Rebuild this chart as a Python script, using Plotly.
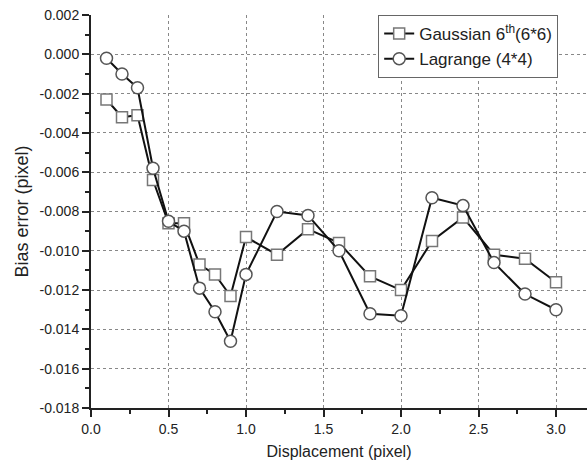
import plotly.graph_objects as go

x_vals = [0.1, 0.2, 0.3, 0.4, 0.5, 0.6, 0.7, 0.8, 0.9, 1.0,
          1.2, 1.4, 1.6, 1.8, 2.0, 2.2, 2.4, 2.6, 2.8, 3.0]
gaussian = [-0.0023, -0.0032, -0.0031, -0.0064, -0.0086, -0.0086, -0.0107, -0.0112, -0.0123, -0.0093,
            -0.0102, -0.0089, -0.0096, -0.0113, -0.0120, -0.0095, -0.0083, -0.0102, -0.0104, -0.0116]
lagrange = [-0.0002, -0.0010, -0.0017, -0.0058, -0.0085, -0.0090, -0.0119, -0.0131, -0.0146, -0.0112,
            -0.0080, -0.0082, -0.0100, -0.0132, -0.0133, -0.0073, -0.0077, -0.0106, -0.0122, -0.0130]
y_ticks = [0.002, 0.0, -0.002, -0.004, -0.006, -0.008, -0.010, -0.012, -0.014, -0.016, -0.018]
y_labels = ["0.002", "0.000", "-0.002", "-0.004", "-0.006", "-0.008", "-0.010",
            "-0.012", "-0.014", "-0.016", "-0.018"]
x_ticks = [0.0, 0.5, 1.0, 1.5, 2.0, 2.5, 3.0]
x_labels = ["0.0", "0.5", "1.0", "1.5", "2.0", "2.5", "3.0"]

fig = go.Figure()
fig.add_trace(go.Scatter(
    x=x_vals, y=gaussian, mode="lines+markers",
    name="Gaussian 6<sup>th</sup>(6*6)",
    line=dict(color="#111111", width=2),
    marker=dict(symbol="square", size=11, color="white",
                line=dict(color="#777777", width=1.5)),
))
fig.add_trace(go.Scatter(
    x=x_vals, y=lagrange, mode="lines+markers",
    name="Lagrange (4*4)",
    line=dict(color="#111111", width=2),
    marker=dict(symbol="circle", size=12, color="white",
                line=dict(color="#555555", width=1.5)),
))

fig.update_layout(
    width=587, height=472,
    margin=dict(l=91, r=0, t=15, b=64),
    paper_bgcolor="white", plot_bgcolor="white",
    font=dict(family="Liberation Sans, Arial, sans-serif", color="#222222", size=12),
    legend=dict(
        x=0.579, y=1.0, xanchor="left", yanchor="top",
        bgcolor="white", bordercolor="#666666", borderwidth=1,
        font=dict(size=17, color="#222222"),
        tracegroupgap=0,
    ),
    xaxis=dict(
        range=[0, 3.2], tickvals=x_ticks, ticktext=x_labels,
        showline=True, linecolor="#222222", linewidth=2,
        ticks="outside", ticklen=7, tickwidth=1.5, tickcolor="#222222",
        minor=dict(dtick=0.25, tick0=0, ticks="outside", ticklen=4, tickcolor="#222222", showgrid=False),
        showgrid=True, gridcolor="#888888", griddash="dot", gridwidth=1,
        zeroline=False,
        tickfont=dict(size=14),
        title=dict(text="Displacement (pixel)", font=dict(size=16), standoff=10),
    ),
    yaxis=dict(
        range=[-0.018, 0.002], tickvals=y_ticks, ticktext=y_labels,
        showline=True, linecolor="#222222", linewidth=2,
        ticks="outside", ticklen=7, tickwidth=1.5, tickcolor="#222222",
        minor=dict(dtick=0.001, tick0=0, ticks="outside", ticklen=4, tickcolor="#222222", showgrid=False),
        showgrid=True, gridcolor="#888888", griddash="dot", gridwidth=1,
        zeroline=False,
        tickfont=dict(size=14),
        title=dict(text="Bias error (pixel)", font=dict(size=18), standoff=6),
    ),
    showlegend=True,
)

fig.write_html("out.html")
